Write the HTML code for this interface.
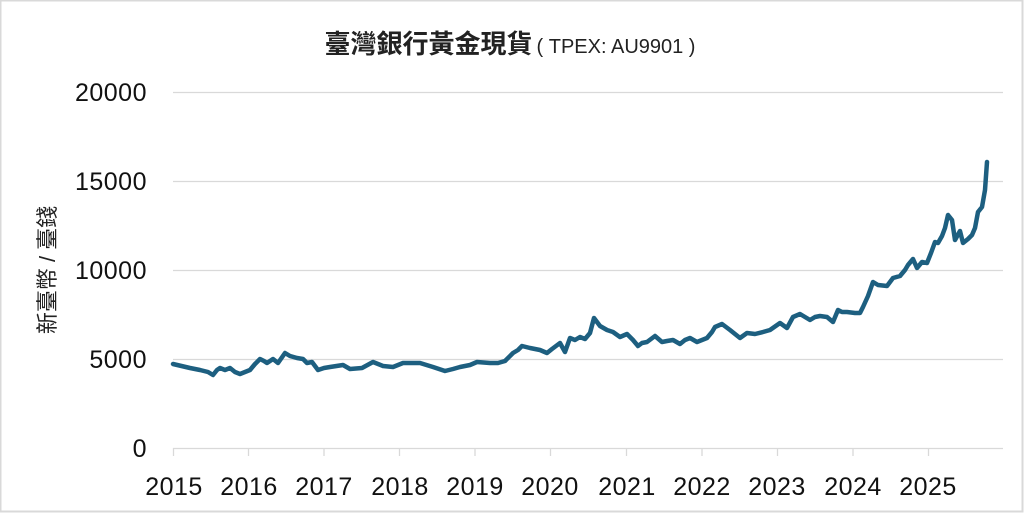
<!DOCTYPE html>
<html><head><meta charset="utf-8"><style>
html,body{margin:0;padding:0;background:#fff;}
svg{display:block;}
</style></head><body>
<svg width="1024" height="513" viewBox="0 0 1024 513" xmlns="http://www.w3.org/2000/svg">
<rect x="0.5" y="0.5" width="1022" height="511" fill="#fff" stroke="#d9d9d9" stroke-width="2"/>
<text x="510" y="53" text-anchor="middle" fill="#222" font-family="'Liberation Sans','Noto Sans CJK TC',sans-serif"><tspan font-size="26" font-weight="bold" font-family="'Noto Sans CJK TC',sans-serif">臺灣銀行黃金現貨</tspan><tspan font-size="20" dx="4">( TPEX: AU9901 )</tspan></text>
<g stroke="#d9d9d9" stroke-width="1.3">
<line x1="173" y1="92.5" x2="1003" y2="92.5"/>
<line x1="173" y1="181.5" x2="1003" y2="181.5"/>
<line x1="173" y1="270.5" x2="1003" y2="270.5"/>
<line x1="173" y1="359.5" x2="1003" y2="359.5"/>
<line x1="173" y1="448.5" x2="1003" y2="448.5"/>
<line x1="173.5" y1="448" x2="173.5" y2="456"/><line x1="248.5" y1="448" x2="248.5" y2="456"/>
<line x1="324" y1="448" x2="324" y2="456"/><line x1="399.5" y1="448" x2="399.5" y2="456"/>
<line x1="475" y1="448" x2="475" y2="456"/><line x1="550.5" y1="448" x2="550.5" y2="456"/>
<line x1="626.5" y1="448" x2="626.5" y2="456"/><line x1="702" y1="448" x2="702" y2="456"/>
<line x1="777.5" y1="448" x2="777.5" y2="456"/><line x1="853" y1="448" x2="853" y2="456"/>
<line x1="928.5" y1="448" x2="928.5" y2="456"/>
</g>
<g font-family="'Liberation Sans',sans-serif" font-size="25" fill="#111" text-anchor="end" letter-spacing="0.5">
<text x="147" y="101">20000</text><text x="147" y="190">15000</text>
<text x="147" y="279">10000</text><text x="147" y="368">5000</text>
<text x="147" y="457">0</text>
</g>
<g font-family="'Liberation Sans',sans-serif" font-size="25" fill="#111" text-anchor="middle" letter-spacing="0.5">
<text x="174" y="495">2015</text><text x="249" y="495">2016</text><text x="324" y="495">2017</text>
<text x="400" y="495">2018</text><text x="475" y="495">2019</text><text x="550" y="495">2020</text>
<text x="627" y="495">2021</text><text x="702" y="495">2022</text><text x="777" y="495">2023</text>
<text x="853" y="495">2024</text><text x="928" y="495">2025</text>
</g>
<text transform="translate(55,270) rotate(-90)" text-anchor="middle" font-size="22" fill="#222" font-family="'Liberation Sans','Noto Sans CJK TC',sans-serif">新臺幣 / 臺錢</text>
<polyline fill="none" stroke="#1d5f80" stroke-width="4.5" stroke-linejoin="round" stroke-linecap="round" points="
173,364 190,368 200,370 208,372 213,375 217,370 220,368 225,370 230,368 235,372 240,374 245,372 250,370 255,364 260,359 264,361 267,363 273,359 278,363 285,353 290,356 297,358 303,359 307,363 312,362 318,370 324,368 330,367 343,365 350,369 362,368 373,362 383,366 393,367 403,363 420,363 433,367 445,371 453,369 460,367 470,365 477,362 490,363
498,363 505,361 513,353 518,350 522,346 530,348 540,350 547,353 552,349 560,343 565,352 570,338 575,340 580,337 585,339 590,333 594,318 600,326 607,330 613,332 620,337 627,334 633,340 638,346 642,343 647,342 655,336 662,342 667,341 673,340 680,344 685,340 690,338 697,342 707,338 712,332 715,327 722,324 730,330 740,338 747,333 755,334 763,332 770,330 780,323 787,328 793,317
800,314 805,317 810,320 815,317 820,316 827,317 833,322 838,310 842,312 847,312 855,313 860,313 863,307 868,296 873,282 878,285 887,286 893,278 900,276 905,270 908,265 913,259 917,268 922,262 927,263 931,253 935,242 938,243 942,236 945,228 948,215 952,220 955,240 960,231 963,243 968,239 972,235 975,228 978,212 982,207 985,190 987,162"/>
</svg>
</body></html>
